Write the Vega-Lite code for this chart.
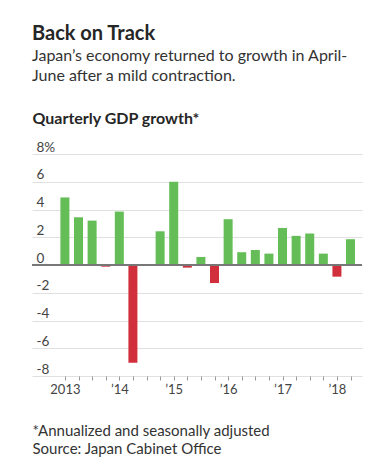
{
  "$schema": "https://vega.github.io/schema/vega-lite/v6.json",
  "width": 330,
  "height": 222,
  "padding": {"left": 31, "top": 24, "right": 5, "bottom": 5},
  "background": "white",
  "config": {
    "view": {"stroke": null},
    "font": "Lato"
  },
  "title": {
    "text": "Back on Track",
    "subtitle": ["Japan’s economy returned to growth in April-", "June after a mild contraction."],
    "anchor": "start",
    "frame": "group",
    "font": "Lato",
    "fontSize": 20,
    "fontWeight": "bold",
    "color": "#262626",
    "subtitleFont": "Lato",
    "subtitleFontSize": 16,
    "subtitleColor": "#333333",
    "subtitleLineHeight": 20,
    "subtitlePadding": 4,
    "offset": 26
  },
  "data": {
    "values": [
      {"t": 2013.00, "v": 4.87},
      {"t": 2013.25, "v": 3.44},
      {"t": 2013.50, "v": 3.2},
      {"t": 2013.75, "v": -0.12},
      {"t": 2014.00, "v": 3.85},
      {"t": 2014.25, "v": -7.05},
      {"t": 2014.50, "v": 0},
      {"t": 2014.75, "v": 2.43},
      {"t": 2015.00, "v": 6.0},
      {"t": 2015.25, "v": -0.19},
      {"t": 2015.50, "v": 0.58},
      {"t": 2015.75, "v": -1.3},
      {"t": 2016.00, "v": 3.3},
      {"t": 2016.25, "v": 0.92},
      {"t": 2016.50, "v": 1.08},
      {"t": 2016.75, "v": 0.82},
      {"t": 2017.00, "v": 2.67},
      {"t": 2017.25, "v": 2.1},
      {"t": 2017.50, "v": 2.27},
      {"t": 2017.75, "v": 0.82},
      {"t": 2018.00, "v": -0.84},
      {"t": 2018.25, "v": 1.86}
    ]
  },
  "layer": [
    {
      "mark": {"type": "bar", "size": 9},
      "encoding": {
        "x": {
          "field": "t",
          "type": "quantitative",
          "scale": {"domain": [2012.487, 2018.369], "nice": false, "zero": false},
          "axis": {
            "values": [2013, 2013.25, 2013.5, 2013.75, 2014, 2014.25, 2014.5, 2014.75, 2015, 2015.25, 2015.5, 2015.75, 2016, 2016.25, 2016.5, 2016.75, 2017, 2017.25, 2017.5, 2017.75, 2018, 2018.25],
            "labelExpr": "datum.value % 1 != 0 ? '' : (datum.value == 2013 ? '2013' : '’' + substring('' + datum.value, 2, 4))",
            "labelOverlap": false,
            "grid": false,
            "domain": false,
            "ticks": true,
            "tickSize": 4,
            "tickColor": "#999999",
            "labelFontSize": 13,
            "labelColor": "#444444",
            "labelPadding": 3,
            "labelFont": "Lato",
            "title": ["*Annualized and seasonally adjusted", "Source: Japan Cabinet Office"],
            "titleAnchor": "start",
            "titleAlign": "left",
            "titleX": 0,
            "titleY": 59.5,
            "titleBaseline": "alphabetic",
            "titleLineHeight": 18,
            "titleFont": "Lato",
            "titleFontSize": 15,
            "titleFontWeight": "normal",
            "titleColor": "#333333"
          }
        },
        "y": {
          "field": "v",
          "type": "quantitative",
          "scale": {"domain": [-8, 8], "nice": false},
          "axis": {
            "values": [-8, -6, -4, -2, 0, 2, 4, 6, 8],
            "labelExpr": "datum.value == 8 ? '8%' : '' + datum.value",
            "labelOverlap": false,
            "grid": true,
            "gridColor": "#e0e0e0",
            "domain": false,
            "ticks": false,
            "tickSize": 0,
            "labelAlign": "left",
            "labelBaseline": "alphabetic",
            "labelPadding": -4,
            "labelOffset": -3,
            "labelFontSize": 13.5,
            "labelColor": "#444444",
            "labelFont": "Lato",
            "title": "Quarterly GDP growth*",
            "titleAngle": 0,
            "titleAlign": "left",
            "titleAnchor": "start",
            "titleX": 0,
            "titleY": -31,
            "titleBaseline": "alphabetic",
            "titleFont": "Lato",
            "titleFontSize": 16,
            "titleFontWeight": "bold",
            "titleColor": "#262626"
          }
        },
        "color": {
          "condition": {"test": "datum.v < 0", "value": "#d22f3c"},
          "value": "#64bd56"
        }
      }
    },
    {
      "mark": {"type": "rule", "color": "#777777", "strokeWidth": 1.5},
      "encoding": {
        "y": {
          "datum": 0,
          "type": "quantitative",
          "axis": {
            "values": [-8, -6, -4, -2, 0, 2, 4, 6, 8],
            "labelExpr": "datum.value == 8 ? '8%' : '' + datum.value",
            "labelOverlap": false,
            "grid": true,
            "gridColor": "#e0e0e0",
            "domain": false,
            "ticks": false,
            "tickSize": 0,
            "labelAlign": "left",
            "labelBaseline": "alphabetic",
            "labelPadding": -4,
            "labelOffset": -3,
            "labelFontSize": 13.5,
            "labelColor": "#444444",
            "labelFont": "Lato",
            "title": "Quarterly GDP growth*",
            "titleAngle": 0,
            "titleAlign": "left",
            "titleAnchor": "start",
            "titleX": 0,
            "titleY": -31,
            "titleBaseline": "alphabetic",
            "titleFont": "Lato",
            "titleFontSize": 16,
            "titleFontWeight": "bold",
            "titleColor": "#262626"
          }
        }
      }
    }
  ]
}
